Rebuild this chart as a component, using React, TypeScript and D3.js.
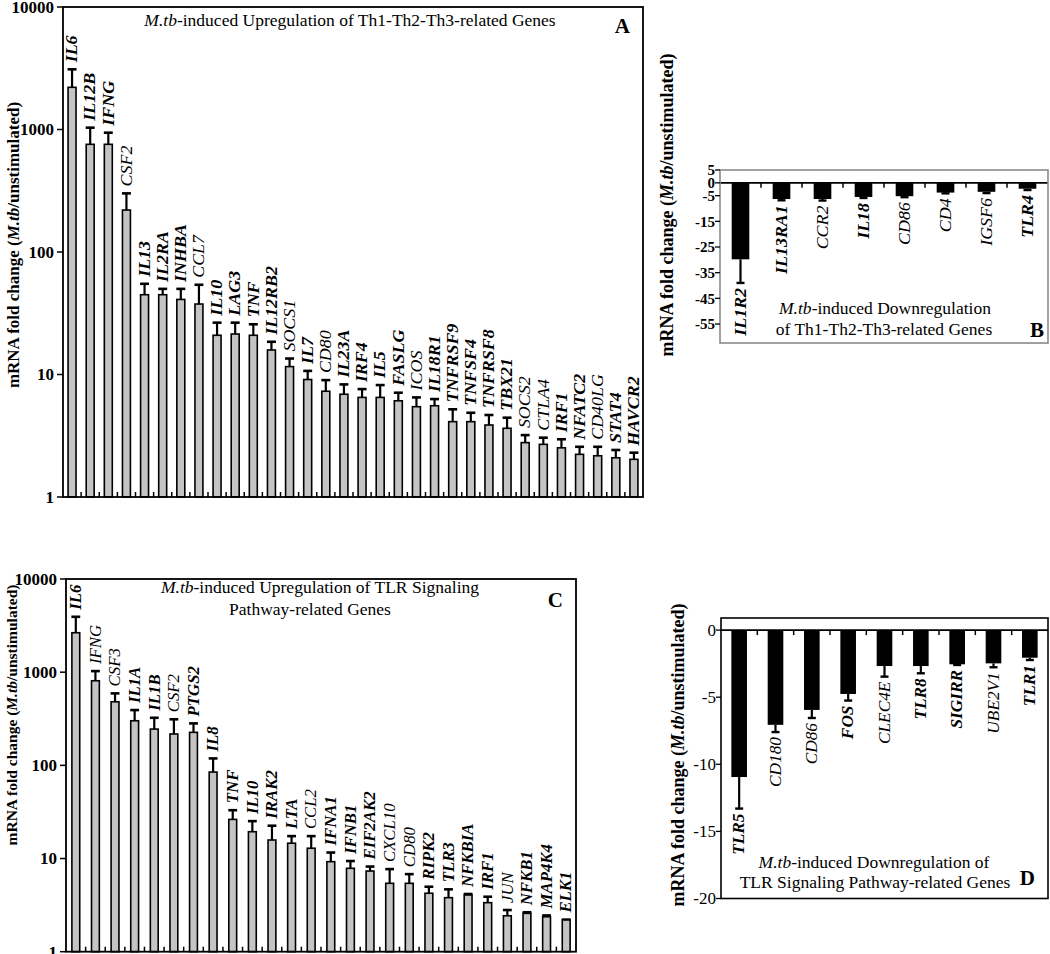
import React from "react";
import * as d3 from "d3";

// ---------- Panel A: upregulated Th1-Th2-Th3 genes (log scale) ----------
const catsA = ["IL6","IL12B","IFNG","CSF2","IL13","IL2RA","INHBA","CCL7","IL10","LAG3","TNF","IL12RB2","SOCS1","IL7","CD80","IL23A","IRF4","IL5","FASLG","ICOS","IL18R1","TNFRSF9","TNFSF4","TNFRSF8","TBX21","SOCS2","CTLA4","IRF1","NFATC2","CD40LG","STAT4","HAVCR2"];
const valsA = [2210,757,757,220,44.8,44.8,41,37.6,20.9,21.4,20.9,15.85,11.6,9.1,7.3,6.9,6.5,6.5,6.1,5.46,5.56,4.12,4.12,3.87,3.64,2.78,2.69,2.52,2.23,2.17,2.09,2.03];
const errsA = [890,278,185,81,10.2,5.2,9,16.4,5.6,5.1,4.8,2.65,1.9,1.6,1.7,1.4,1.1,1.7,1.0,1.04,0.74,1.08,0.75,0.8,0.8,0.42,0.36,0.44,0.34,0.4,0.33,0.27];

// ---------- Panel B: downregulated Th1-Th2-Th3 genes ----------
const catsB = ["IL1R2","IL13RA1","CCR2","IL18","CD86","CD4","IGSF6","TLR4"];
const valsB = [-29.8,-6.3,-6.3,-5.5,-5.2,-3.8,-3.5,-2.3];
const errsB = [9.2,0.5,0.6,0.4,0.4,0.3,0.5,0.5];
const ticksB = [5,0,-5,-15,-25,-35,-45,-55];

// ---------- Panel C: upregulated TLR pathway genes (log scale) ----------
const catsC = ["IL6","IFNG","CSF3","IL1A","IL1B","CSF2","PTGS2","IL8","TNF","IL10","IRAK2","LTA","CCL2","IFNA1","IFNB1","EIF2AK2","CXCL10","CD80","RIPK2","TLR3","NFKBIA","IRF1","JUN","NFKB1","MAP4K4","ELK1"];
const valsC = [2650,809,481,301,245,217,226,84.7,26.3,19.4,15.8,14.6,12.9,9.25,7.85,7.34,5.42,5.42,4.24,3.8,4.06,3.36,2.43,2.58,2.37,2.19];
const errsC = [1280,218,111,91,79,95,56,34,6.7,5.8,6.7,2.8,4.5,2.35,1.55,0.86,2.28,1.38,0.74,0.87,0.1,0.53,0.37,0.07,0.08,0.02];

// ---------- Panel D: downregulated TLR pathway genes ----------
const catsD = ["TLR5","CD180","CD86","FOS","CLEC4E","TLR8","SIGIRR","UBE2V1","TLR1"];
const valsD = [-10.95,-7.06,-5.95,-4.76,-2.68,-2.68,-2.55,-2.48,-2.06];
const errsD = [2.35,0.54,0.6,0.49,0.79,0.54,0.05,0.29,0.17];
const ticksD = [0,-5,-10,-15,-20];

const logTicks = [1,10,100,1000,10000];
const yLabelText = "unstimulated)";

const FONT = '"Liberation Serif", "Times New Roman", Times, serif';

// labels drawn in regular (non-bold) italic
const lightA = new Set(["CSF2","CCL7","SOCS1","CD80","ICOS","SOCS2","CTLA4","CD40LG"]);
const lightB = new Set(["CCR2","CD86","CD4","IGSF6"]);
const lightC = new Set(["IFNG","CSF3","CSF2","CCL2","CXCL10","CD80","JUN"]);
const lightD = new Set(["CD180","CD86","CLEC4E","UBE2V1"]);

function YLabel({ x, y, size, sx }: any) {
  return (
    <text transform={`translate(${x},${y}) rotate(-90) scale(${sx},1)`} textAnchor="middle" dy="0.35em"
      fontFamily={FONT} fontWeight="bold" fontSize={size}>
      mRNA fold change (<tspan fontStyle="italic">M.tb</tspan>/{yLabelText}
    </text>
  );
}

function LogPanel({ cats, vals, errs, light, left, right, top, bottom, pad, sx, tickFont }: any) {
  const x = d3.scaleBand().domain(cats).range([left, right]).paddingInner(pad).paddingOuter(pad / 2);
  const y = d3.scaleLog().domain([1, 10000]).range([bottom, top]);
  const step = x.step();
  const bw = x.bandwidth();
  return (
    <g>
      {cats.map((c: string, i: number) => {
        const cx = (x(c) as number) + bw / 2;
        const v = vals[i];
        const e = v + errs[i];
        return (
          <g key={c}>
            <line x1={cx} x2={cx} y1={y(v)} y2={y(e)} stroke="#000" strokeWidth={2.2} />
            <line x1={cx - bw / 2 - 0.5} x2={cx + bw / 2 + 0.5} y1={y(e)} y2={y(e)} stroke="#000" strokeWidth={2.6} />
            <rect x={x(c)} y={y(v)} width={bw} height={bottom - y(v)} fill="#c4c4c4" stroke="#000" strokeWidth={1.6} />
            <text transform={`translate(${cx},${y(e) - 7}) rotate(-90) scale(${sx},1)`} dy="0.33em" textAnchor="start"
              fontFamily={FONT} fontStyle="italic" fontWeight={light.has(c) ? "normal" : "bold"} fontSize={16}>{c}</text>
          </g>
        );
      })}
      {cats.slice(1).map((c: string, i: number) => (
        <line key={"t" + c} x1={left + step * (i + 1)} x2={left + step * (i + 1)} y1={bottom} y2={bottom - 5} stroke="#000" strokeWidth={1.5} />
      ))}
      <rect x={left} y={top} width={right - left} height={bottom - top} fill="none" stroke="#000" strokeWidth={1.8} />
      {logTicks.map((t) => (
        <g key={t}>
          <line x1={left - 6} x2={left} y1={y(t)} y2={y(t)} stroke="#000" strokeWidth={1.5} />
          <text x={left - 9} y={y(t)} dy="0.35em" textAnchor="end" fontFamily={FONT} fontWeight="bold" fontSize={tickFont}>{t}</text>
        </g>
      ))}
    </g>
  );
}

function NegPanel({ cats, vals, errs, light, left, right, top, bottom, domain, ticks, pad, border, tickFont, tickWeight, sx }: any) {
  const x = d3.scaleBand().domain(cats).range([left, right]).paddingInner(pad).paddingOuter(pad / 2);
  const y = d3.scaleLinear().domain(domain).range([bottom, top]);
  const step = x.step();
  const bw = x.bandwidth();
  const y0 = y(0);
  return (
    <g>
      {cats.map((c: string, i: number) => {
        const cx = (x(c) as number) + bw / 2;
        const v = vals[i];
        const e = v - errs[i];
        return (
          <g key={c}>
            <line x1={cx} x2={cx} y1={y(v)} y2={y(e)} stroke="#000" strokeWidth={2.2} />
            <line x1={cx - 4} x2={cx + 4} y1={y(e)} y2={y(e)} stroke="#000" strokeWidth={2.4} />
            <rect x={x(c)} y={y0} width={bw} height={y(v) - y0} fill="#000" />
            <text transform={`translate(${cx},${y(e) + 5}) rotate(-90) scale(${sx},1)`} dy="0.33em" textAnchor="end"
              fontFamily={FONT} fontStyle="italic" fontWeight={light.has(c) ? "normal" : "bold"} fontSize={16}>{c}</text>
          </g>
        );
      })}
      {cats.slice(1).map((c: string, i: number) => (
        <line key={"t" + c} x1={left + step * (i + 1)} x2={left + step * (i + 1)} y1={y0} y2={y0 + 5} stroke="#000" strokeWidth={1.5} />
      ))}
      <line x1={left} x2={right} y1={y0} y2={y0} stroke="#000" strokeWidth={1.6} />
      <rect x={left} y={top} width={right - left} height={bottom - top} fill="none" stroke={border} strokeWidth={1.6} />
      {ticks.map((t: number) => (
        <g key={t}>
          <line x1={left - 5} x2={left} y1={y(t)} y2={y(t)} stroke="#000" strokeWidth={1.3} />
          <text x={left - 5} y={y(t)} dy="0.35em" textAnchor="end" fontFamily={FONT} fontWeight={tickWeight} fontSize={tickFont}>{t}</text>
        </g>
      ))}
    </g>
  );
}

function Title({ lines, size }: any) {
  return (
    <g fontFamily={FONT} fontSize={size}>
      {lines.map((l: any, i: number) => (
        <text key={i} x={l.x} y={l.y} textAnchor="middle">
          {l.mtb ? <tspan fontStyle="italic">M.tb</tspan> : null}{l.text}
        </text>
      ))}
    </g>
  );
}

export default function App() {
  return (
    <svg width={1050} height={954} style={{ position: "absolute", left: 0, top: 0, background: "#fff" }}>
      <rect width={1050} height={954} fill="#fff" />
      {/* Panel A */}
      <LogPanel cats={catsA} vals={valsA} errs={errsA} light={lightA} left={63} right={643} top={7} bottom={497} pad={0.56} sx={1.12} tickFont={17} />
      <YLabel x={13} y={245} size={17} sx={1.0} />
      <Title size={17.5} lines={[{ x: 350, y: 26, mtb: true, text: "-induced Upregulation of Th1-Th2-Th3-related Genes" }]} />
      <text x={630} y={33} textAnchor="end" fontFamily={FONT} fontWeight="bold" fontSize={21}>A</text>

      {/* Panel B */}
      <NegPanel cats={catsB} vals={valsB} errs={errsB} light={lightB} left={720} right={1048} top={170} bottom={343} domain={[-62.4, 5]} ticks={ticksB} pad={0.57} border="#8a8a8a" tickFont={15} tickWeight="bold" sx={1.12} />
      <YLabel x={667} y={205} size={18} sx={1.0} />
      <Title size={17.5} lines={[{ x: 885, y: 314, mtb: true, text: "-induced Downregulation" }, { x: 884, y: 335, text: "of Th1-Th2-Th3-related Genes" }]} />
      <text x={1044} y={337} textAnchor="end" fontFamily={FONT} fontWeight="bold" fontSize={21}>B</text>

      {/* Panel C */}
      <LogPanel cats={catsC} vals={valsC} errs={errsC} light={lightC} left={66} right={576} top={579} bottom={951.7} pad={0.6} sx={1.05} tickFont={17} />
      <YLabel x={12} y={715} size={15.5} sx={1.0} />
      <Title size={17.5} lines={[{ x: 320, y: 593, mtb: true, text: "-induced Upregulation of TLR Signaling" }, { x: 310, y: 615, text: "Pathway-related Genes" }]} />
      <text x={563} y={607} textAnchor="end" fontFamily={FONT} fontWeight="bold" fontSize={21}>C</text>

      {/* Panel D */}
      <NegPanel cats={catsD} vals={valsD} errs={errsD} light={lightD} left={721} right={1048} top={618} bottom={898.5} domain={[-20, 0.9]} ticks={ticksD} pad={0.57} border="#000" tickFont={17} tickWeight="normal" sx={1.08} />
      <YLabel x={678} y={755} size={18} sx={1.0} />
      <Title size={17.5} lines={[{ x: 874, y: 868, mtb: true, text: "-induced Downregulation of" }, { x: 875, y: 888, text: "TLR Signaling Pathway-related Genes" }]} />
      <text x={1035} y={885} textAnchor="end" fontFamily={FONT} fontWeight="bold" fontSize={21}>D</text>
    </svg>
  );
}
